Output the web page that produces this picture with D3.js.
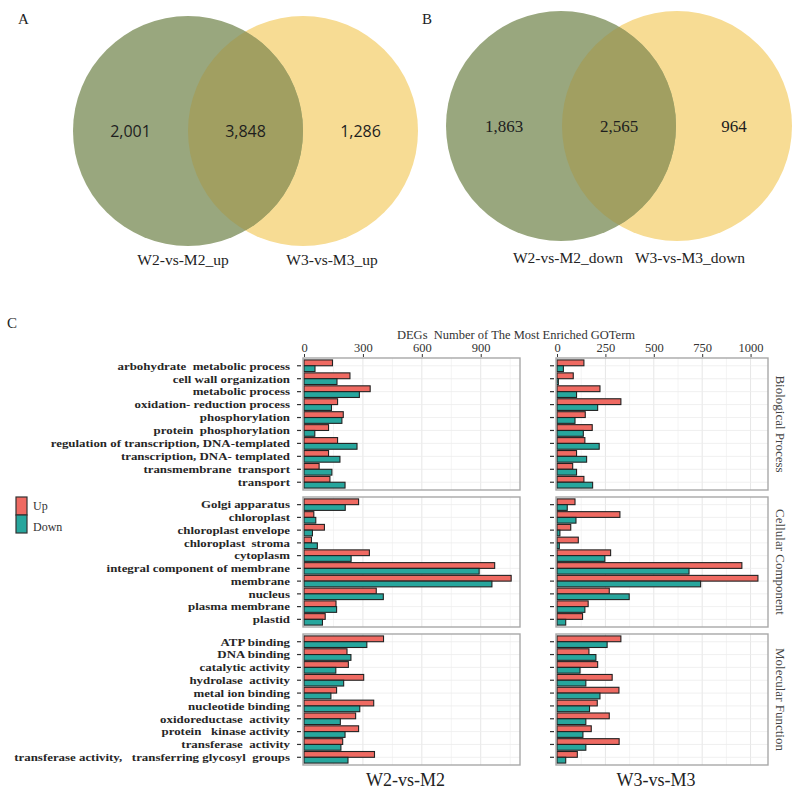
<!DOCTYPE html>
<html><head><meta charset="utf-8">
<script src="https://cdn.jsdelivr.net/npm/d3@7"></script>
<style>body{margin:0;background:#fff} svg{display:block} text{white-space:pre}</style>
</head><body>
<svg id="c" width="800" height="792"></svg>
<script>
// ---------- data ----------
const vennAValues = [2001, 3848, 1286];
const vennASets = ["W2-vs-M2_up", "W3-vs-M3_up"];
const vennBValues = [1863, 2565, 964];
const vennBSets = ["W2-vs-M2_down", "W3-vs-M3_down"];

const groups = ["Biological Process", "Cellular Component", "Molecular Function"];
const bpTerms = ["arbohydrate  metabolic process", "cell wall organization", "metabolic process",
  "oxidation- reduction process", "phosphorylation", "protein  phosphorylation",
  "regulation of transcription, DNA-templated", "transcription, DNA- templated",
  "transmembrane  transport", "transport"];
const ccTerms = ["Golgi apparatus", "chloroplast", "chloroplast envelope", "chloroplast  stroma",
  "cytoplasm", "integral component of membrane", "membrane", "nucleus", "plasma membrane", "plastid"];
const mfTerms = ["ATP binding", "DNA binding", "catalytic activity", "hydrolase  activity",
  "metal ion binding", "nucleotide binding", "oxidoreductase  activity", "protein   kinase activity",
  "transferase  activity", "transferase activity,   transferring glycosyl  groups"];
const comparisons = ["W2-vs-M2", "W3-vs-M3"];
const series = ["Up", "Down"];
const ticksW2 = [0, 300, 600, 900];
const ticksW3 = [0, 250, 500, 750, 1000];

// values: BP(10), CC(10), MF(10)
const w2Up   = [145,234,337,171,200,125,171,125,77,132,  278,50,104,38,333,971,1055,368,163,108,  405,219,226,304,166,355,263,278,197,359];
const w2Down = [56,168,282,140,193,55,270,183,142,209,   210,60,43,68,240,892,957,404,166,94,     320,239,162,202,137,284,185,209,188,224];
const w3Up   = [139,84,222,330,146,182,144,101,81,139,   93,325,71,110,277,955,1038,270,161,132,  330,165,210,285,320,208,270,177,321,105];
const w3Down = [33,7,101,210,93,136,218,153,101,184,     53,98,15,12,247,682,742,373,144,45,      259,201,119,149,222,168,149,134,149,45];

// ---------- setup ----------
const svg = d3.select("#c");
const serif = "'Liberation Serif', 'DejaVu Serif', serif";
const sans = "'Open Sans', 'Liberation Sans', sans-serif";
const fmt = d3.format(",");
const cGreen = "#99a77e", cYellow = "#f7dc94", cOver = "#a19f61";
const cUp = "#ef6a62", cDown = "#27a69d";

// ---------- Venn diagrams ----------
function venn(id, cx1, cx2, cy, r, values, sets, numFont, numSize, letter, lx, ly, labY, labX) {
  const g = svg.append("g");
  g.append("circle").attr("cx", cx2).attr("cy", cy).attr("r", r).attr("fill", cYellow);
  g.append("circle").attr("cx", cx1).attr("cy", cy).attr("r", r).attr("fill", cGreen);
  const cp = svg.append("clipPath").attr("id", id);
  cp.append("circle").attr("cx", cx2).attr("cy", cy).attr("r", r);
  g.append("circle").attr("cx", cx1).attr("cy", cy).attr("r", r).attr("fill", cOver).attr("clip-path", `url(#${id})`);
  const xs = [ (cx1 - r + cx2 - r) / 2, (cx1 + cx2) / 2, (cx1 + r + cx2 + r) / 2 ];
  g.selectAll("text.num").data(values).join("text").attr("class", "num")
    .attr("x", (d, i) => xs[i]).attr("y", cy).attr("dy", "0.35em")
    .attr("text-anchor", "middle").attr("font-family", numFont).attr("font-size", numSize)
    .attr("fill", "#1e1e1e").text(d => fmt(d));
  g.selectAll("text.lab").data(sets).join("text").attr("class", "lab")
    .attr("x", (d, i) => labX[i]).attr("y", labY).attr("text-anchor", "middle")
    .attr("font-family", serif).attr("font-size", 15.5).attr("fill", "#222").text(d => d);
  g.append("text").attr("x", lx).attr("y", ly).attr("font-family", serif).attr("font-size", 15)
    .attr("fill", "#222").text(letter);
}
venn("clipA", 188, 303, 131, 115, vennAValues, vennASets, sans, 16, "A", 18, 24, 265, [183, 332]);
venn("clipB", 561, 677, 126, 115, vennBValues, vennBSets, serif, 17, "B", 422, 24, 263, [568, 690]);

// ---------- Panel C ----------
svg.append("text").attr("x", 7).attr("y", 328).attr("font-family", serif).attr("font-size", 15)
  .attr("fill", "#222").text("C");
svg.append("text").attr("x", 516).attr("y", 339).attr("text-anchor", "middle")
  .attr("font-family", serif).attr("font-size", 12.5).attr("fill", "#333")
  .text("DEGs  Number of The Most Enriched GOTerm");

const termsByGroup = [bpTerms, ccTerms, mfTerms];
const rows = [[358, 490], [497, 627], [634, 765]];
const cols = [
  { x0: 303, x1: 520, range: [304, 520], domain: [0, 1100], ticks: ticksW2, minor: [150, 450, 750, 1050], up: w2Up, down: w2Down },
  { x0: 556, x1: 768, range: [557, 768], domain: [0, 1090], ticks: ticksW3, minor: [125, 375, 625, 875], up: w3Up, down: w3Down }
];

cols.forEach((col, ci) => {
  const x = d3.scaleLinear().domain(col.domain).range(col.range);
  // top axis
  const axisG = svg.append("g").attr("transform", `translate(0,${rows[0][0] - 1})`)
    .call(d3.axisTop(x).tickValues(col.ticks).tickSize(3).tickPadding(2).tickFormat(d3.format("d")));
  axisG.select(".domain").remove();
  axisG.selectAll("line").attr("stroke", "#333");
  axisG.selectAll("text").attr("font-family", serif).attr("font-size", 12.5).attr("fill", "#333");

  rows.forEach((rw, gi) => {
    const terms = termsByGroup[gi];
    const y = d3.scalePoint().domain(terms).range(rw).padding(0.6);
    const step = y.step();
    const bh = step * 0.9 / 2;
    const g = svg.append("g");
    g.append("rect").attr("x", col.x0).attr("y", rw[0]).attr("width", col.x1 - col.x0)
      .attr("height", rw[1] - rw[0]).attr("fill", "#fff");
    // grid
    g.selectAll("line.minor").data(col.minor.filter(v => x(v) < col.x1)).join("line")
      .attr("x1", d => x(d)).attr("x2", d => x(d)).attr("y1", rw[0]).attr("y2", rw[1])
      .attr("stroke", "#f1f1f1").attr("stroke-width", 0.8);
    g.selectAll("line.major").data(col.ticks).join("line")
      .attr("x1", d => x(d)).attr("x2", d => x(d)).attr("y1", rw[0]).attr("y2", rw[1])
      .attr("stroke", "#e6e6e6").attr("stroke-width", 1);
    g.selectAll("line.hg").data(terms).join("line")
      .attr("x1", col.x0).attr("x2", col.x1).attr("y1", d => y(d)).attr("y2", d => y(d))
      .attr("stroke", "#ececec").attr("stroke-width", 0.8);
    // bars
    const off = gi * 10;
    const dataUp = terms.map((t, i) => ({ t, v: col.up[off + i] }));
    const dataDown = terms.map((t, i) => ({ t, v: col.down[off + i] }));
    g.selectAll("rect.up").data(dataUp).join("rect")
      .attr("x", x(0)).attr("y", d => y(d.t) - bh).attr("width", d => x(d.v) - x(0)).attr("height", bh)
      .attr("fill", cUp).attr("stroke", "#222").attr("stroke-width", 1.1);
    g.selectAll("rect.down").data(dataDown).join("rect")
      .attr("x", x(0)).attr("y", d => y(d.t)).attr("width", d => x(d.v) - x(0)).attr("height", bh)
      .attr("fill", cDown).attr("stroke", "#222").attr("stroke-width", 1.1);
    // border
    g.append("rect").attr("x", col.x0).attr("y", rw[0]).attr("width", col.x1 - col.x0)
      .attr("height", rw[1] - rw[0]).attr("fill", "none").attr("stroke", "#a8a8a8").attr("stroke-width", 1.4);
    // y ticks
    g.selectAll("line.yt").data(terms).join("line")
      .attr("x1", col.x0 - 6).attr("x2", col.x0 - 2).attr("y1", d => y(d)).attr("y2", d => y(d))
      .attr("stroke", "#333").attr("stroke-width", 1.2);
    if (ci === 0) {
      g.selectAll("text.yl").data(terms).join("text")
        .attr("x", col.x0 - 13).attr("y", d => y(d)).attr("dy", "0.35em").attr("text-anchor", "end")
        .attr("font-family", serif).attr("font-size", 11).attr("font-weight", "bold")
        .attr("fill", "#262626").text(d => d)
        .each(function () {
          const len = this.getComputedTextLength();
          d3.select(this).attr("textLength", len * 1.17).attr("lengthAdjust", "spacingAndGlyphs");
        });
    } else {
      const cy = (rw[0] + rw[1]) / 2;
      g.append("text").attr("transform", `translate(776,${cy}) rotate(90)`)
        .attr("text-anchor", "middle").attr("font-family", serif).attr("font-size", 13)
        .attr("fill", "#444").text(groups[gi]);
    }
  });
  svg.append("text").attr("x", (col.x0 + col.x1) / 2 - 6).attr("y", 786).attr("text-anchor", "middle")
    .attr("font-family", serif).attr("font-size", 18).attr("fill", "#222").text(comparisons[ci]);
});

// legend
const leg = svg.append("g");
const keyColors = [cUp, cDown];
leg.selectAll("rect").data(series).join("rect")
  .attr("x", 16).attr("y", (d, i) => 497 + i * 18).attr("width", 11).attr("height", 18)
  .attr("fill", (d, i) => keyColors[i]).attr("stroke", "#333").attr("stroke-width", 1.2);
leg.selectAll("text").data(series).join("text")
  .attr("x", 33).attr("y", (d, i) => 506 + i * 21).attr("dy", "0.35em")
  .attr("font-family", serif).attr("font-size", 12).attr("fill", "#333").text(d => d);
</script>
</body></html>
